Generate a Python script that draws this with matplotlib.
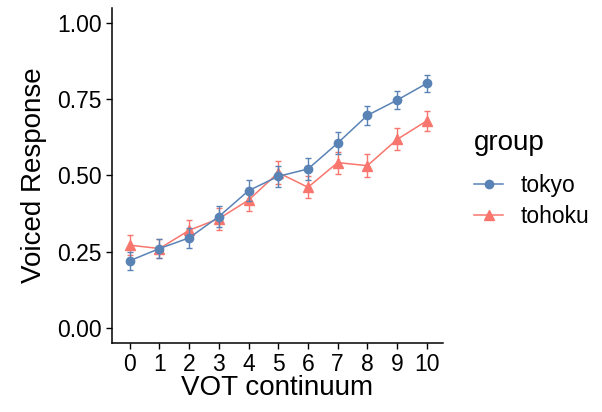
import matplotlib
matplotlib.use("Agg")
import matplotlib.pyplot as plt

# VOT continuum steps
steps = [0, 1, 2, 3, 4, 5, 6, 7, 8, 9, 10]

# Mean voiced response and error per group
tokyo = [0.22, 0.26, 0.295, 0.365, 0.45, 0.497, 0.521, 0.606, 0.697, 0.747, 0.802]
tokyo_err = [0.03, 0.03, 0.033, 0.035, 0.035, 0.035, 0.035, 0.035, 0.032, 0.03, 0.029]
tohoku = [0.271, 0.26, 0.32, 0.358, 0.419, 0.509, 0.461, 0.542, 0.532, 0.618, 0.679]
tohoku_err = [0.033, 0.031, 0.034, 0.036, 0.037, 0.037, 0.036, 0.036, 0.037, 0.036, 0.034]

yticks = [0.0, 0.25, 0.5, 0.75, 1.0]

plt.rcParams['font.family'] = ['Liberation Sans', 'DejaVu Sans']

fig = plt.figure(figsize=(6.02, 4.12), dpi=100)
ax = fig.add_axes([0.186, 0.1675, 0.55, 0.8135])

blue = '#5A83B5'
red = '#F8766D'

ax.errorbar(steps, tokyo, yerr=tokyo_err, color=blue, marker='o', markersize=6,
            linewidth=1.1, elinewidth=1.0, capsize=2.5, capthick=1.0, label='tokyo', zorder=3)
ax.errorbar(steps, tohoku, yerr=tohoku_err, color=red, marker='^', markersize=7.5,
            linewidth=1.1, elinewidth=1.0, capsize=2.5, capthick=1.0, label='tohoku', zorder=2)

ax.set_xlim(-0.6, 10.55)
ax.set_ylim(-0.05, 1.05)
ax.set_xticks(steps)
ax.set_yticks(yticks)
ax.set_yticklabels([f'{v:.2f}' for v in yticks])
ax.tick_params(labelsize=16.5, length=4.5, width=1, color='black', labelcolor='black', pad=3)

for side in ['top', 'right']:
    ax.spines[side].set_visible(False)
for side in ['left', 'bottom']:
    ax.spines[side].set_linewidth(1.1)
    ax.spines[side].set_color('black')

ax.set_xlabel('VOT continuum', fontsize=20, labelpad=-1)
ax.set_ylabel('Voiced Response', fontsize=20, labelpad=7)

handles, labels = ax.get_legend_handles_labels()
handles = [h[0] for h in handles]
leg = ax.legend(handles, labels, title='group', loc='center left',
                bbox_to_anchor=(1.03, 0.49), frameon=False, fontsize=16.5,
                title_fontsize=20, handlelength=1.3, labelspacing=0.35,
                handletextpad=0.75)
leg._legend_box.align = 'left'
leg._legend_box.sep = 13

fig.savefig('out.png', dpi=100)
